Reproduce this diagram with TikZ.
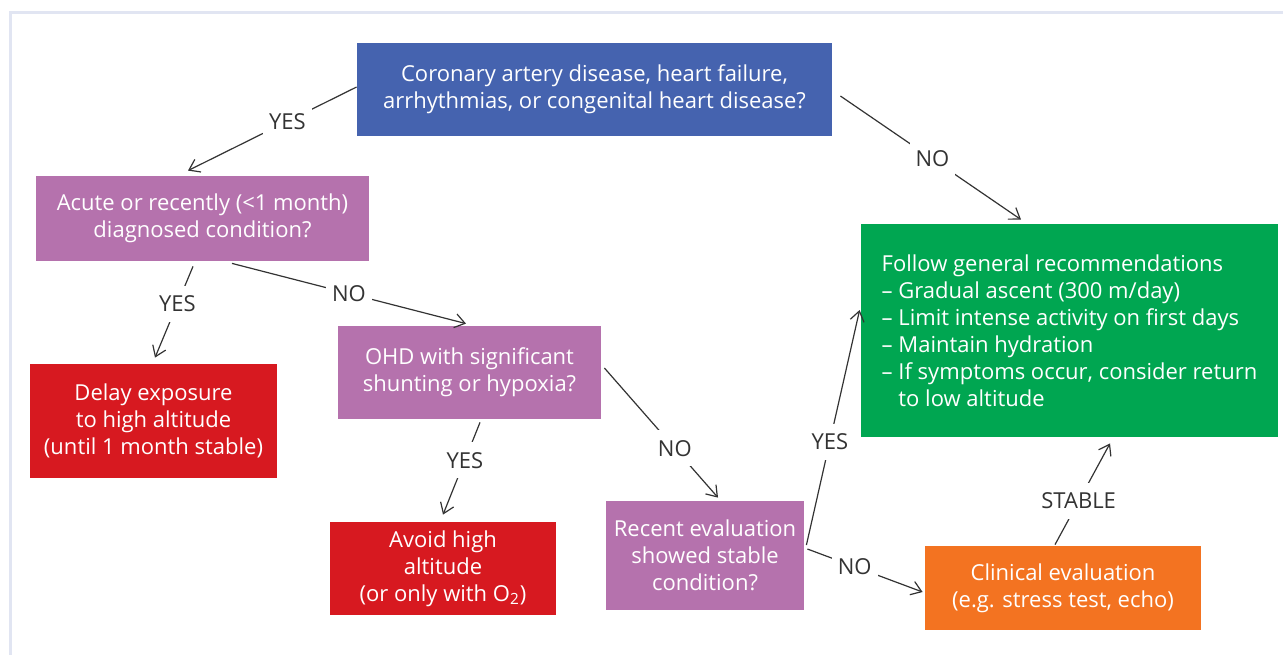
\documentclass[tikz,border=0pt]{standalone}
\usepackage{fontspec}
\setmainfont{Open Sans}
\usetikzlibrary{arrows.meta,calc}
\definecolor{cadblue}{HTML}{4563AF}
\definecolor{askpurple}{HTML}{B572AD}
\definecolor{stopred}{HTML}{D71920}
\definecolor{gogreen}{HTML}{00A651}
\definecolor{checkorange}{HTML}{F37321}
\definecolor{framegray}{HTML}{E1E5F2}
\definecolor{inkgray}{HTML}{333333}

\begin{document}
\begin{tikzpicture}[x=0.5pt,y=-0.5pt,
	box/.style={rectangle, inner sep=0pt, align=center, text=white, font=\fontsize{11}{13.5}\selectfont},
	lbl/.style={fill=white, inner xsep=3pt, inner ysep=5pt, text=inkgray, font=\fontsize{11}{13.5}\selectfont},
	link/.style={draw=inkgray, line width=0.6pt, -{Straight Barb[length=5pt,width=7pt]}}]
	\useasboundingbox (0,0) rectangle (1283,655);
	\draw[framegray, line width=1.5pt] (10,655) -- (10,12) -- (1283,12);
	
	\node[box, fill=cadblue, minimum width=237.5pt, minimum height=46.5pt] (cad) at (594.5,89.5) {Coronary artery disease, heart failure,\\arrhythmias, or congenital heart disease?};
	\node[box, fill=askpurple, minimum width=166.5pt, minimum height=42.5pt] (acute) at (202.5,218.5) {Acute or recently (<1 month)\\diagnosed condition?};
	\node[box, fill=stopred, minimum width=123.5pt, minimum height=57pt] (delay) at (153.5,421) {Delay exposure\\to high altitude\\(until 1 month stable)};
	\node[box, fill=askpurple, minimum width=131.5pt, minimum height=46.5pt] (ohd) at (469.5,372.5) {OHD with significant\\shunting or hypoxia?};
	\node[box, fill=stopred, minimum width=113pt, minimum height=46.5pt] (avoid) at (443,568.5) {Avoid high\\altitude\\(or only with O\textsubscript{2})};
	\node[box, fill=askpurple, minimum width=99pt, minimum height=54.5pt] (recent) at (705,555.5) {Recent evaluation\\showed stable\\condition?};
	\node[box, fill=gogreen, minimum width=208.5pt, minimum height=106.5pt, align=left] (general) at (1069.5,330.5) {Follow general recommendations\\\textendash{} Gradual ascent (300 m/day)\\\textendash{} Limit intense activity on first days\\\textendash{} Maintain hydration\\\textendash{} If symptoms occur, consider return\\\phantom{\textendash{} }to low altitude};
	\node[box, fill=checkorange, minimum width=138pt, minimum height=42pt] (clinic) at (1063,588) {Clinical evaluation\\(e.g. stress test, echo)};
	
	\draw[link] ($(cad.west)+(0,-2.5)$) -- node[lbl, pos=0.41] {YES} ($(acute.north)+(-14.5,-5)$);
	\draw[link] ($(cad.east)+(8,6.5)$) -- node[lbl, pos=0.51] {NO} ($(general.north)+(-48.5,-4)$);
	\draw[link] ($(acute.south)+(-9.5,5)$) -- node[lbl, pos=0.41] {YES} ($(delay.north)+(1.5,-6)$);
	\draw[link] ($(acute.south)+(29.5,2)$) -- node[lbl, pos=0.5] {NO} ($(ohd.north)+(-3.5,-2)$);
	\draw[link] ($(ohd.south)+(10.5,3)$) -- node[lbl, pos=0.41] {YES} ($(avoid.north)+(0,-7)$);
	\draw[link] ($(ohd.east)+(3,-4.5)$) -- node[lbl, pos=0.62] {NO} ($(recent.north)+(13,-3)$);
	\draw[link] ($(recent.east)+(2,-10.5)$) -- node[lbl, pos=0.44] {YES} ($(general.west)+(-1,-20.5)$);
	\draw[link] ($(recent.east)+(3,-6.5)$) -- node[lbl, pos=0.41] {NO} ($(clinic.west)+(-2,4)$);
	\draw[link] ($(clinic.north)+(-8,-1)$) -- node[lbl, pos=0.43] {STABLE} ($(general.south)+(40.5,6)$);
\end{tikzpicture}
\end{document}
